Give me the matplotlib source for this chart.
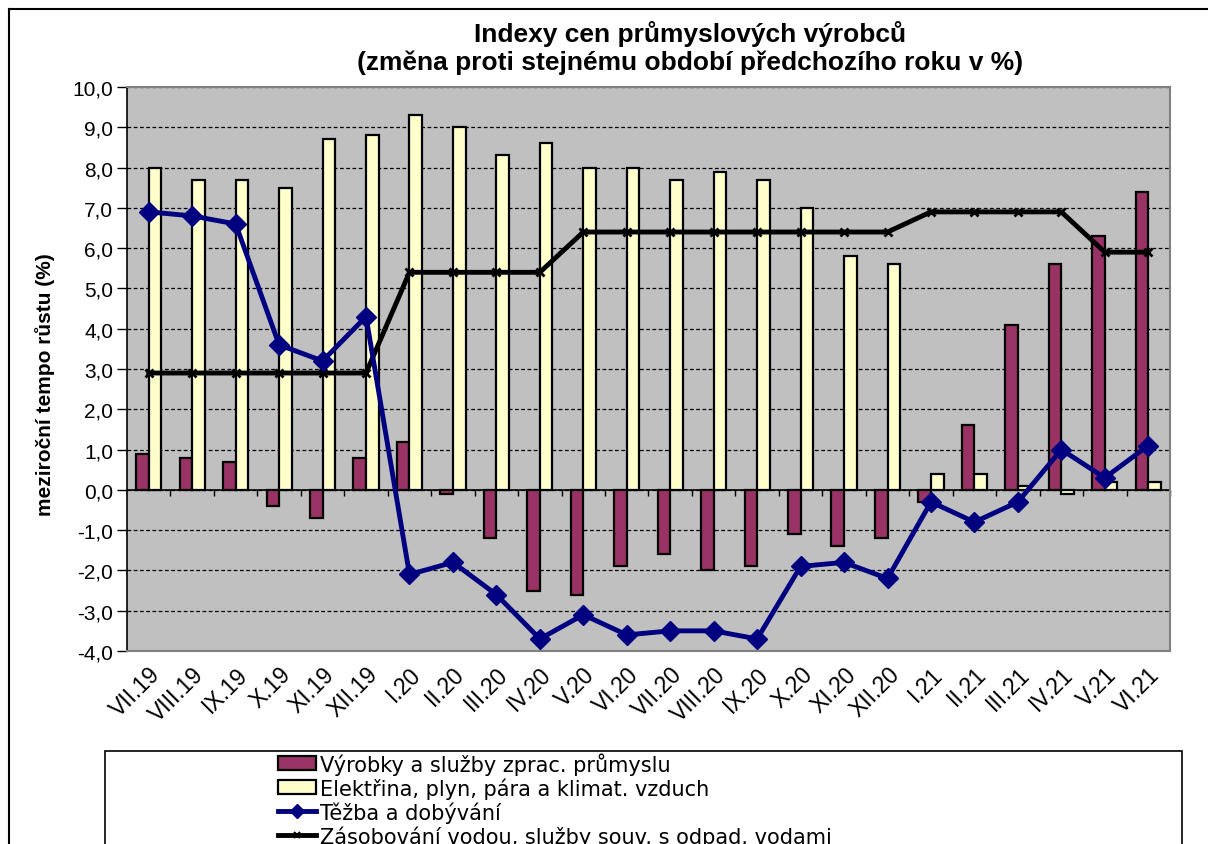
import numpy as np
import matplotlib
matplotlib.use("Agg")
import matplotlib.pyplot as plt
from matplotlib.patches import Rectangle
from matplotlib.lines import Line2D

plt.rcParams["font.family"] = ["Liberation Sans", "DejaVu Sans"]

months = ["VII.19", "VIII.19", "IX.19", "X.19", "XI.19", "XII.19",
          "I.20", "II.20", "III.20", "IV.20", "V.20", "VI.20",
          "VII.20", "VIII.20", "IX.20", "X.20", "XI.20", "XII.20",
          "I.21", "II.21", "III.21", "IV.21", "V.21", "VI.21"]

zprac = [0.9, 0.8, 0.7, -0.4, -0.7, 0.8, 1.2, -0.1, -1.2, -2.5, -2.6, -1.9,
         -1.6, -2.0, -1.9, -1.1, -1.4, -1.2, -0.3, 1.6, 4.1, 5.6, 6.3, 7.4]
elektrina = [8.0, 7.7, 7.7, 7.5, 8.7, 8.8, 9.3, 9.0, 8.3, 8.6, 8.0, 8.0,
             7.7, 7.9, 7.7, 7.0, 5.8, 5.6, 0.4, 0.4, 0.1, -0.1, 0.2, 0.2]
tezba = [6.9, 6.8, 6.6, 3.6, 3.2, 4.3, -2.1, -1.8, -2.6, -3.7, -3.1, -3.6,
         -3.5, -3.5, -3.7, -1.9, -1.8, -2.2, -0.3, -0.8, -0.3, 1.0, 0.3, 1.1]
voda = [2.9, 2.9, 2.9, 2.9, 2.9, 2.9, 5.4, 5.4, 5.4, 5.4, 6.4, 6.4,
        6.4, 6.4, 6.4, 6.4, 6.4, 6.4, 6.9, 6.9, 6.9, 6.9, 5.9, 5.9]

labels = ["Výrobky a služby zprac. průmyslu",
          "Elektřina, plyn, pára a klimat. vzduch",
          "Těžba a dobývání",
          "Zásobování vodou, služby souv. s odpad. vodami"]

MAROON = "#993366"
CREAM = "#FFFFCC"
NAVY = "#000080"

W, H = 1208, 845
fig = plt.figure(figsize=(W / 100, H / 100), dpi=100)
ax = fig.add_axes([127 / W, 1 - 652 / H, (1170 - 127) / W, (652 - 88) / H])

x = np.arange(len(months))
bw = 0.29
ax.set_facecolor("#C0C0C0")
ax.set_axisbelow(True)
ax.yaxis.grid(True, color="black", linestyle=(0, (3, 2)), linewidth=0.9)

ax.bar(x - bw / 2, zprac, bw, color=MAROON, edgecolor="black", linewidth=1.6, zorder=3)
ax.bar(x + bw / 2, elektrina, bw, color=CREAM, edgecolor="black", linewidth=1.6, zorder=3)
ax.axhline(0, color="black", linewidth=1.2, zorder=2.5)
ax.vlines(x + 0.5, -0.15, 0, color="black", linewidth=1, zorder=2.5, clip_on=False)

ax.plot(x, tezba, color=NAVY, linewidth=3.5, marker="D", markersize=10, zorder=5)
ax.plot(x, voda, color="black", linewidth=3.5, marker="x", markersize=6,
        markeredgewidth=2, zorder=4)

ax.set_xlim(-0.5, len(months) - 0.5)
ax.set_ylim(-4, 10)
yt = np.arange(-4, 10.5, 1)
ax.set_yticks(yt)
ax.set_yticklabels([f"{v:.1f}".replace(".", ",") for v in yt], fontsize=15)
ax.tick_params(axis="y", direction="out", length=7, width=1, pad=3)
ax.set_xticks(x)
ax.set_xticklabels(months, rotation=45, ha="right", rotation_mode="anchor", fontsize=16.5)
ax.tick_params(axis="x", length=0, pad=8)

for side in ["top", "right", "bottom"]:
    ax.spines[side].set_color("#808080")
    ax.spines[side].set_linewidth(1.5)
ax.spines["left"].set_color("black")
ax.spines["left"].set_linewidth(1.2)

fig.text(690 / W, 1 - 48 / H,
         "Indexy cen průmyslových výrobců\n(změna proti stejnému období předchozího roku v %)",
         ha="center", va="center", fontsize=19, fontweight="bold", linespacing=1.15)
fig.text(45 / W, 1 - 385 / H, "meziroční tempo růstu (%)", rotation=90,
         ha="center", va="center", fontsize=15, fontweight="bold")

# outer chart frame and legend box
fig.add_artist(Line2D([9 / W, 1], [1 - 10 / H, 1 - 10 / H], color="black", linewidth=1.5))
fig.add_artist(Line2D([9 / W, 9 / W], [0, 1 - 10 / H], color="black", linewidth=1.5))
fig.add_artist(Rectangle((105 / W, -0.05), (1182 - 105) / W, 0.05 + 1 - 752 / H,
                         transform=fig.transFigure, facecolor="white",
                         edgecolor="black", linewidth=1.2))

handles = [
    Rectangle((0, 0), 1, 1, facecolor=MAROON, edgecolor="black", linewidth=1.6),
    Rectangle((0, 0), 1, 1, facecolor=CREAM, edgecolor="black", linewidth=1.6),
    Line2D([], [], color=NAVY, linewidth=3.5, marker="D", markersize=7),
    Line2D([], [], color="black", linewidth=3.5, marker="x", markersize=5, markeredgewidth=1.5),
]
fig.legend(handles, labels, loc="upper left", bbox_to_anchor=(278 / W, 1 - 753 / H),
           frameon=False, prop={"family": "DejaVu Sans", "size": 15}, borderpad=0,
           borderaxespad=0, handlelength=1.8, handleheight=0.65, handletextpad=0.2,
           labelspacing=0.12)

fig.savefig("out.png", dpi=100)
